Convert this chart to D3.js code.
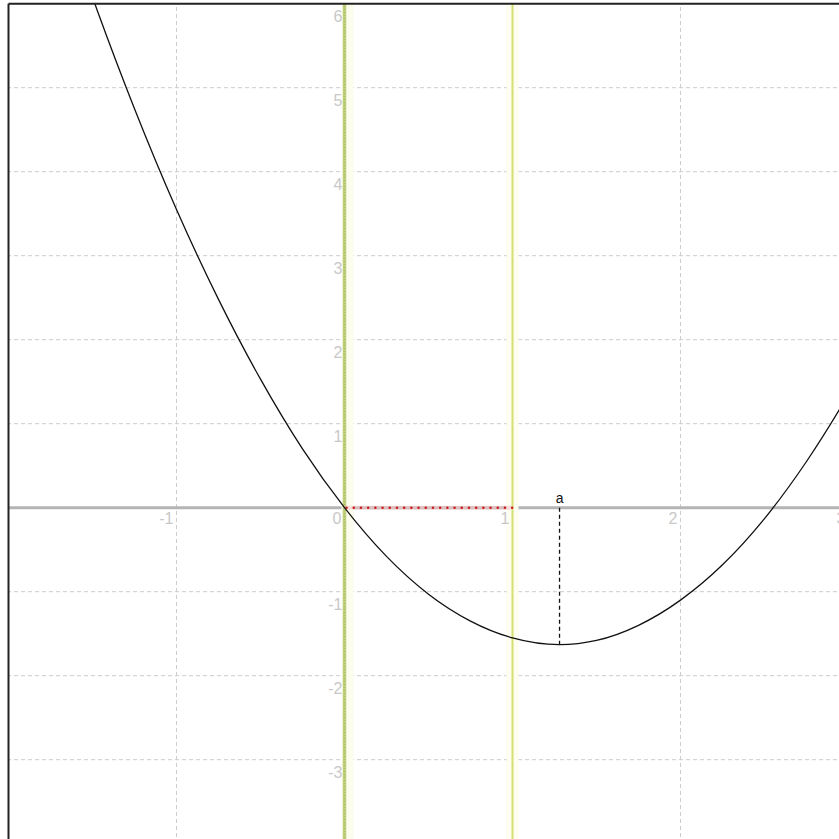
<!DOCTYPE html>
<html><head><meta charset="utf-8">
<script src="https://cdn.jsdelivr.net/npm/d3@7"></script>
<style>html,body{margin:0;padding:0;background:#fff;overflow:hidden}</style>
</head><body>
<svg id="c" width="839" height="839"></svg>
<script>
// Data
const xTicks = [-1, 0, 1, 2, 3];
const yTicks = [-3, -2, -1, 1, 2, 3, 4, 5, 6];
const xTickLabels = ["-1", "0", "1", "2", "3"];
const yTickLabels = ["-3", "-2", "-1", "1", "2", "3", "4", "5", "6"];
const xGrid = [-2, -1, 1, 2, 3];
const yGrid = [-3, -2, -1, 1, 2, 3, 4, 5, 6];
const curveX = [-1.6, -1.47, -1.25, -1, -0.75, -0.5, -0.25, 0, 0.25, 0.5, 0.75, 1, 1.28, 1.5, 1.75, 2, 2.25, 2.5, 2.75, 3, 3.1];
const curveY = [6.64, 5.91, 4.75, 3.55, 2.48, 1.53, 0.70, 0, -0.58, -1.03, -1.35, -1.55, -1.63, -1.58, -1.40, -1.10, -0.68, -0.13, 0.55, 1.35, 1.70];
const segStart = 0, segEnd = 1;      // red dotted segment on x axis
const vLineX = 1;                     // yellow-green vertical line
const pointA = {label: "a", x: 1.28, y: -1.63};

const W = 839, H = 839;
const x = d3.scaleLinear().domain([-2, 3]).range([8.5, 848.5]);
const y = d3.scaleLinear().domain([0, 6]).range([507.7, 3.7]);

const svg = d3.select("#c");
const defs = svg.append("defs");
defs.append("clipPath").attr("id","clip").append("rect")
  .attr("x", x(-2)).attr("y", y(6)).attr("width", W).attr("height", H);
const g = svg.append("g").attr("clip-path","url(#clip)");

// grid
g.selectAll(".gx").data(xGrid).join("line")
  .attr("x1", d => x(d)).attr("x2", d => x(d)).attr("y1", 0).attr("y2", H)
  .attr("stroke", "#cccccc").attr("stroke-width", 1).attr("stroke-dasharray", "4,3");
g.selectAll(".gy").data(yGrid).join("line")
  .attr("y1", d => y(d)).attr("y2", d => y(d)).attr("x1", 0).attr("x2", W)
  .attr("stroke", "#cccccc").attr("stroke-width", 1).attr("stroke-dasharray", "4,3");

// x axis
g.append("line").attr("x1", 0).attr("x2", W).attr("y1", y(0)).attr("y2", y(0))
  .attr("stroke", "#b4b4b4").attr("stroke-width", 3);

// y axis (green with pale glow)
g.append("line").attr("x1", x(0)+3).attr("x2", x(0)+3).attr("y1", 0).attr("y2", H)
  .attr("stroke", "#fdfdee").attr("stroke-width", 12);
g.append("line").attr("x1", x(0)).attr("x2", x(0)).attr("y1", 0).attr("y2", H)
  .attr("stroke", "#c0d07c").attr("stroke-width", 3.5);
g.append("line").attr("x1", x(0)).attr("x2", x(0)).attr("y1", 0).attr("y2", H)
  .attr("stroke", "#a6bd62").attr("stroke-width", 1.5).attr("stroke-dasharray", "1,2");

// vertical line at x=1
g.append("line").attr("x1", x(vLineX)).attr("x2", x(vLineX)).attr("y1", 0).attr("y2", H)
  .attr("stroke", "#fdfdf0").attr("stroke-width", 12);
g.append("line").attr("x1", x(vLineX)).attr("x2", x(vLineX)).attr("y1", 0).attr("y2", H)
  .attr("stroke", "#d6e070").attr("stroke-width", 2);

// tick labels
const lab = svg.append("g").attr("font-family", "Liberation Sans, Arial, sans-serif")
  .attr("font-size", 16).attr("fill", "#c8c8c8");
lab.selectAll(".xl").data(xTicks).join("text")
  .attr("x", d => x(d) - 3).attr("y", y(0) + 16).attr("text-anchor", "end")
  .text((d, i) => xTickLabels[i]);
lab.selectAll(".yl").data(yTicks).join("text")
  .attr("x", x(0) - 2).attr("y", d => y(d) + 18).attr("text-anchor", "end")
  .text((d, i) => yTickLabels[i]);

// red dotted segment
g.append("line").attr("x1", x(segStart)).attr("x2", x(segEnd)).attr("y1", y(0)).attr("y2", y(0))
  .attr("stroke", "#f2c8c8").attr("stroke-width", 4).attr("opacity", 0.6);
g.append("line").attr("x1", x(segStart)+2).attr("x2", x(segEnd)).attr("y1", y(0)).attr("y2", y(0))
  .attr("stroke", "#cc2020").attr("stroke-width", 2.5).attr("stroke-linecap", "round")
  .attr("stroke-dasharray", "0.1,7.1");

// dashed vertical from a
g.append("line").attr("x1", x(pointA.x)).attr("x2", x(pointA.x)).attr("y1", y(0)).attr("y2", y(pointA.y))
  .attr("stroke", "#111").attr("stroke-width", 1.3).attr("stroke-dasharray", "4,3");

// curve
const pts = curveX.map((v, i) => [v, curveY[i]]);
g.append("path").datum(pts)
  .attr("d", d3.line().x(d => x(d[0])).y(d => y(d[1])).curve(d3.curveMonotoneX))
  .attr("fill", "none").attr("stroke", "#111").attr("stroke-width", 1.3);

// label a
svg.append("text").attr("x", x(pointA.x)).attr("y", y(0) - 5).attr("text-anchor", "middle")
  .attr("font-family", "Liberation Sans, Arial, sans-serif").attr("font-size", 14).attr("fill", "#111")
  .text(pointA.label);

// frame (top and left)
svg.append("line").attr("x1", x(-2)).attr("x2", W).attr("y1", y(6)).attr("y2", y(6))
  .attr("stroke", "#222").attr("stroke-width", 2);
svg.append("line").attr("x1", x(-2)).attr("x2", x(-2)).attr("y1", y(6)).attr("y2", H)
  .attr("stroke", "#222").attr("stroke-width", 2);
</script>
</body></html>
